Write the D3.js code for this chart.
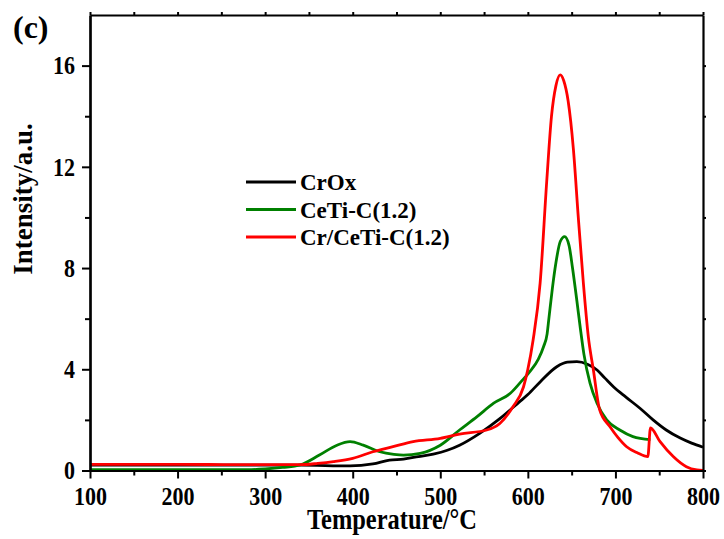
<!DOCTYPE html>
<html>
<head>
<meta charset="utf-8">
<script src="https://cdn.jsdelivr.net/npm/d3@7"></script>
<style>
  body { margin: 0; background: #fff; }
  svg text { font-family: "Liberation Serif", "Times New Roman", serif; font-weight: bold; fill: #000; }
</style>
</head>
<body>
<div id="chart"></div>
<script>
// Set variables
const FRAME_WIDTH = 724;
const FRAME_HEIGHT = 539;
const MARGINS = {left: 90, right: 21, top: 15, bottom: 68.5};
const VIS_WIDTH = FRAME_WIDTH - MARGINS.left - MARGINS.right;
const VIS_HEIGHT = FRAME_HEIGHT - MARGINS.top - MARGINS.bottom;

// data: [temperature, intensity]
const CROX = [[100,0.21],[340,0.21],[397,0.18],[423,0.26],[442,0.41],[458,0.45],[475,0.55],
  [492,0.65],[508,0.8],[522,1.0],[545,1.47],[568,2.05],[590,2.7],[600,3.0],[614,3.5],[633,4.1],
  [645,4.28],[656,4.3],[668,4.2],[679,3.97],[688,3.65],[698,3.3],[712,2.9],[728,2.46],[743,2.0],
  [758,1.6],[774,1.28],[787,1.08],[800,0.92]];
const CETI = [[100,0.03],[280,0.03],[300,0.06],[320,0.12],[340,0.22],[362,0.61],[382,1.0],
  [397,1.14],[412,1.0],[431,0.74],[447,0.64],[458,0.61],[477,0.68],[500,1.0],[522,1.6],[542,2.13],
  [561,2.66],[580,3.05],[592,3.5],[602,3.9],[612,4.4],[618,4.9],[622,5.4],[624,6.0],[628,7.2],
  [632,8.2],[637,9.05],[642,9.24],[647,8.9],[651,8.0],[656,6.7],[660,5.6],[664,4.6],[671,3.45],
  [679,2.66],[690,2.0],[705,1.6],[720,1.34],[740,1.22]];
const CR_CETI = [[100,0.24],[200,0.24],[300,0.23],[340,0.23],[360,0.28],[378,0.35],[400,0.48],
  [423,0.74],[446,0.94],[469,1.14],[500,1.27],[522,1.44],[553,1.6],[568,1.86],[583,2.52],[595,3.3],
  [600,4.0],[606,5.16],[614,7.4],[621.5,11.4],[627,14.0],[632,15.2],[637,15.63],[641,15.4],
  [646,14.6],[652,12.7],[657.6,10.0],[663.4,7.4],[669,5.3],[674.7,4.0],[682,2.4],[693.8,1.73],
  [703,1.3],[712.8,0.94],[725,0.7],[737,0.55],[740,1.68],[751,1.14],[766,0.55],[781,0.15],
  [793,0.02],[800,0.0]];

const SERIES_NAMES = ["CrOx", "CeTi-C(1.2)", "Cr/CeTi-C(1.2)"];
const SERIES_COLORS = ["#000000", "#008000", "#ff0000"];
const X_TICKS = [100, 200, 300, 400, 500, 600, 700, 800];
const X_MINOR = [150, 250, 350, 450, 550, 650, 750];
const Y_TICKS = [0, 4, 8, 12, 16];
const Y_MINOR = [2, 6, 10, 14];

const FRAME = d3.select("#chart")
                .append("svg")
                  .attr("width", FRAME_WIDTH)
                  .attr("height", FRAME_HEIGHT);

const X_SCALE = d3.scaleLinear().domain([100, 800]).range([0, VIS_WIDTH]);
const Y_SCALE = d3.scaleLinear().domain([0, 18]).range([VIS_HEIGHT, 0]);

const VIS = FRAME.append("g")
  .attr("transform", "translate(" + MARGINS.left + "," + MARGINS.top + ")");

// lines
const line = d3.line()
  .x((d) => { return X_SCALE(d[0]); })
  .y((d) => { return Y_SCALE(d[1]); })
  .curve(d3.curveMonotoneX);

[CROX, CETI, CR_CETI].forEach((s, i) => {
  VIS.append("path")
    .datum(s)
    .attr("d", line)
    .attr("fill", "none")
    .attr("stroke", SERIES_COLORS[i])
    .attr("stroke-width", 2.8)
    .attr("stroke-linejoin", "round");
});

// squeeze digit labels a bit, the original font is narrow
function squeeze(sel, perChar) {
  sel.each(function() {
    const t = d3.select(this);
    t.attr("textLength", t.text().length * perChar).attr("lengthAdjust", "spacingAndGlyphs");
  });
}

// bottom axis
const xAxis = VIS.append("g")
  .attr("transform", "translate(0," + VIS_HEIGHT + ")")
  .call(d3.axisBottom(X_SCALE).tickValues(X_TICKS).tickSize(8).tickPadding(8).tickSizeOuter(0));
xAxis.selectAll("text").attr("font-size", "26px");
squeeze(xAxis.selectAll("text"), 11);

VIS.append("g")
  .attr("transform", "translate(0," + VIS_HEIGHT + ")")
  .call(d3.axisBottom(X_SCALE).tickValues(X_MINOR).tickSize(5).tickFormat("").tickSizeOuter(0));

// left axis
const yAxis = VIS.append("g")
  .call(d3.axisLeft(Y_SCALE).tickValues(Y_TICKS).tickSize(8).tickPadding(7).tickSizeOuter(0));
yAxis.selectAll("text").attr("font-size", "26px");
squeeze(yAxis.selectAll("text"), 11);

VIS.append("g")
  .call(d3.axisLeft(Y_SCALE).tickValues(Y_MINOR).tickSize(5).tickFormat("").tickSizeOuter(0));

// top + right axes, ticks only
VIS.append("g")
  .call(d3.axisTop(X_SCALE).tickValues(X_TICKS.concat(X_MINOR)).tickSize(3).tickFormat("").tickSizeOuter(0));
VIS.append("g")
  .attr("transform", "translate(" + VIS_WIDTH + ",0)")
  .call(d3.axisRight(Y_SCALE).tickValues(Y_TICKS.concat(Y_MINOR)).tickSize(3).tickFormat("").tickSizeOuter(0));

VIS.selectAll(".domain").attr("stroke-width", 2.2);
VIS.selectAll(".tick line").attr("stroke-width", 2);
VIS.selectAll("g").attr("font-family", null);

// axis titles
FRAME.append("text")
  .attr("x", 392)
  .attr("y", 529)
  .attr("text-anchor", "middle")
  .attr("font-size", "29px")
  .attr("textLength", 170)
  .attr("lengthAdjust", "spacingAndGlyphs")
  .text("Temperature/°C");

FRAME.append("text")
  .attr("transform", "translate(31.5,199) rotate(-90)")
  .attr("text-anchor", "middle")
  .attr("font-size", "27px")
  .text("Intensity/a.u.");

FRAME.append("text")
  .attr("x", 13)
  .attr("y", 38)
  .attr("font-size", "32px")
  .text("(c)");

// legend
const LEG_Y = [182, 209.5, 237];
SERIES_NAMES.forEach((name, i) => {
  FRAME.append("line")
    .attr("x1", 246).attr("x2", 296)
    .attr("y1", LEG_Y[i]).attr("y2", LEG_Y[i])
    .attr("stroke", SERIES_COLORS[i])
    .attr("stroke-width", 3);
  FRAME.append("text")
    .attr("x", 300)
    .attr("y", LEG_Y[i] + 8)
    .attr("font-size", "23px")
    .text(name);
});
</script>
</body>
</html>
